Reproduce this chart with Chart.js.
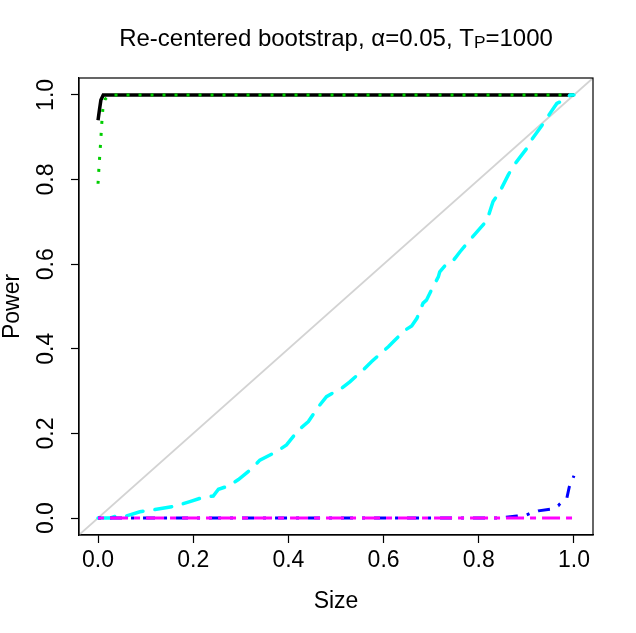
<!DOCTYPE html>
<html>
<head>
<meta charset="utf-8">
<script src="https://cdn.jsdelivr.net/npm/chart.js@4.4.1/dist/chart.umd.min.js"></script>
<style>
html, body { margin: 0; padding: 0; background: #fff; overflow: hidden; }
#wrap { position: relative; width: 636px; height: 633px; }
#title {
    position: absolute; left: 36px; top: 26px; width: 600px;
    text-align: center; font: 24px/24px "Liberation Sans", Arial, sans-serif; color: #000;
    white-space: nowrap;
}
#title .sub { font-size: 0.72em; position: relative; top: 0.14em; }
</style>
</head>
<body>
<div id="wrap">
    <canvas id="chart" width="636" height="633"></canvas>
    <div id="title">Re-centered bootstrap, &alpha;=0.05, T<span class="sub">P</span>=1000</div>
</div>
<script>
// tick positions + labels
var xTicks = [0, 0.2, 0.4, 0.6, 0.8, 1.0];
var xTickLabels = ["0.0", "0.2", "0.4", "0.6", "0.8", "1.0"];
var yTicks = [0, 0.2, 0.4, 0.6, 0.8, 1.0];
var yTickLabels = ["0.0", "0.2", "0.4", "0.6", "0.8", "1.0"];

// series (size -> power)
var blackX = [0, 0.003, 0.006, 0.011, 1];
var blackY = [0.94, 0.965, 0.988, 1, 1];

var greenX = [0, 0.002, 0.005, 0.008, 0.01, 0.015, 0.025, 1];
var greenY = [0.79, 0.83, 0.88, 0.935, 0.965, 0.99, 1, 1];

var cyanX = [0, 0.025, 0.039, 0.060, 0.088, 0.123, 0.162, 0.193, 0.221, 0.242, 0.253, 0.274, 0.295,
    0.323, 0.340, 0.375, 0.396, 0.421, 0.442, 0.463, 0.480, 0.494, 0.512, 0.529, 0.557, 0.575,
    0.610, 0.624, 0.645, 0.659, 0.670, 0.683, 0.690, 0.704, 0.715, 0.718, 0.733, 0.746, 0.761,
    0.775, 0.803, 0.817, 0.830, 0.843, 0.862, 0.872, 0.901, 0.911, 0.936, 0.950, 0.964, 0.980,
    0.992, 1.0];
var cyanY = [0, 0, 0.005, 0.005, 0.015, 0.021, 0.028, 0.039, 0.049, 0.052, 0.068, 0.076, 0.091,
    0.117, 0.137, 0.157, 0.173, 0.208, 0.228, 0.263, 0.287, 0.296, 0.307, 0.322, 0.350, 0.370,
    0.405, 0.421, 0.444, 0.454, 0.472, 0.508, 0.515, 0.547, 0.570, 0.582, 0.602, 0.608, 0.630,
    0.649, 0.685, 0.703, 0.748, 0.769, 0.811, 0.831, 0.874, 0.894, 0.933, 0.957, 0.980, 0.988,
    1.0, 1.0];

var blueX = [0, 0.85, 0.855, 0.88, 0.9, 0.908, 0.925, 0.95, 0.967, 0.97, 0.985, 0.99, 1.0];
var blueY = [0, 0, 0.002, 0.005, 0.007, 0.011, 0.017, 0.021, 0.029, 0.033, 0.047, 0.073, 0.1];

var magentaX = [0, 1];
var magentaY = [0, 0];

// 45 degree reference line, corner to corner
var diagX = [-0.04, 1.04];
var diagY = [-0.04, 1.04];

function pts(xs, ys) {
    return xs.map(function(x, i) { return {x: x, y: ys[i]}; });
}

function line(data, color, width, dash, cap) {
    return {
        data: data,
        borderColor: color,
        borderWidth: width,
        borderDash: dash,
        borderCapStyle: cap || 'butt',
        pointRadius: 0,
        tension: 0,
        fill: false
    };
}

var FONT = '"Liberation Sans", Arial, sans-serif';

// plot frame like R's box()
var boxPlugin = {
    id: 'box',
    afterDraw: function(chart) {
        var a = chart.chartArea, ctx = chart.ctx;
        ctx.save();
        ctx.strokeStyle = '#000';
        ctx.lineWidth = 1.2;
        ctx.strokeRect(a.left, a.top, a.right - a.left, a.bottom - a.top);
        ctx.restore();
    }
};

var chart = new Chart(document.getElementById("chart"), {
    type: 'line',
    data: {
        datasets: [
            line(pts(magentaX, magentaY), '#FF00FF', 3, [6, 6, 18, 6]),
            line(pts(blueX, blueY), '#0000FF', 3, [3, 9, 12, 9]),
            line(pts(cyanX, cyanY), '#00FFFF', 3.5, [17, 12], 'round'),
            line(pts(greenX, greenY), '#00CD00', 3, [3, 9]),
            line(pts(blackX, blackY), '#000000', 3.5, []),
            line(pts(diagX, diagY), '#D3D3D3', 1.8, [])
        ]
    },
    options: {
        responsive: false,
        animation: false,
        layout: { padding: { top: 78, right: 43, left: 0, bottom: 0 } },
        plugins: {
            legend: { display: false },
            tooltip: { enabled: false },
            title: { display: false }
        },
        scales: {
            x: {
                type: 'linear',
                min: -0.04,
                max: 1.04,
                afterBuildTicks: function(s) { s.ticks = xTicks.map(function(v) { return {value: v}; }); },
                afterFit: function(s) { s.height = 98; },
                grid: { drawOnChartArea: false, drawTicks: true, tickLength: 8, tickColor: '#000', tickWidth: 1.2 },
                border: { display: true, color: '#000', width: 1.2 },
                ticks: {
                    color: '#000',
                    font: { family: FONT, size: 23 },
                    padding: 4,
                    maxRotation: 0,
                    autoSkip: false,
                    callback: function(v, i) { return xTickLabels[i]; }
                },
                title: {
                    display: true,
                    text: 'Size',
                    color: '#000',
                    font: { family: FONT, size: 23 },
                    padding: { top: 0, bottom: 18 }
                }
            },
            y: {
                type: 'linear',
                min: -0.04,
                max: 1.04,
                afterBuildTicks: function(s) { s.ticks = yTicks.map(function(v) { return {value: v}; }); },
                afterFit: function(s) { s.width = 79; },
                grid: { drawOnChartArea: false, drawTicks: true, tickLength: 8, tickColor: '#000', tickWidth: 1.2 },
                border: { display: true, color: '#000', width: 1.2 },
                ticks: {
                    color: '#000',
                    font: { family: FONT, size: 23 },
                    padding: 8,
                    minRotation: 90,
                    maxRotation: 90,
                    crossAlign: 'center',
                    autoSkip: false,
                    callback: function(v, i) { return yTickLabels[i]; }
                },
                title: {
                    display: true,
                    text: 'Power',
                    color: '#000',
                    font: { family: FONT, size: 23, lineHeight: 0.8 },
                    padding: { top: 3, bottom: 0 }
                }
            }
        }
    },
    plugins: [boxPlugin]
});
</script>
</body>
</html>
